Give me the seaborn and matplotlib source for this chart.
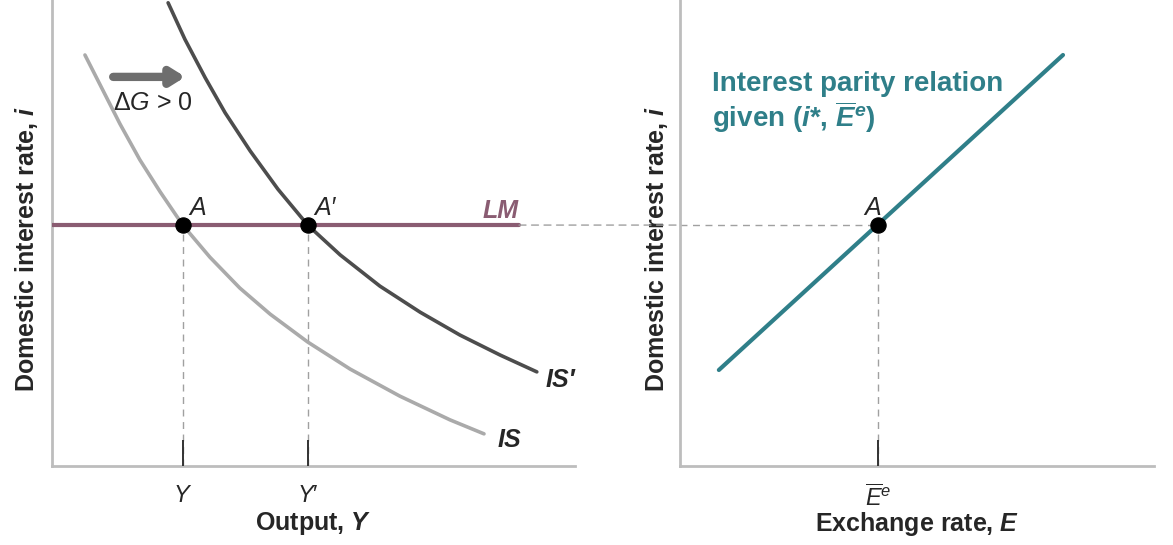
import matplotlib
matplotlib.use("Agg")
import matplotlib.pyplot as plt
from matplotlib.patches import ConnectionPatch
import seaborn as sns

# ------------------------------------------------------------------
# Data (schematic units 0-10 on both axes)
# ------------------------------------------------------------------
is_x = [0.63, 0.92, 1.30, 1.68, 2.07, 2.50, 3.02, 3.59, 4.17, 4.89, 5.70, 6.65, 7.61, 8.26]
is_y = [8.82, 8.18, 7.34, 6.57, 5.88, 5.17, 4.48, 3.82, 3.26, 2.66, 2.08, 1.50, 0.99, 0.69]

is2_x = [2.22, 2.54, 2.93, 3.31, 3.79, 4.32, 4.89, 5.51, 6.27, 7.04, 7.80, 8.57, 9.27]
is2_y = [9.94, 9.16, 8.33, 7.58, 6.76, 5.94, 5.17, 4.53, 3.86, 3.30, 2.81, 2.38, 2.02]

lm_x = [0.0, 8.93]
lm_y = [5.17, 5.17]

eq_x = [2.50, 4.89]          # A, A'
eq_y = [5.17, 5.17]
eq_names = ["A", "A\u2032"]
out_ticks = ["$Y$", "$Y\u2032$"]

ip_x = [0.82, 8.08]          # interest parity line
ip_y = [2.06, 8.82]
ip_a = (4.18, 5.17)

# ------------------------------------------------------------------
# Style
# ------------------------------------------------------------------
sns.set_style("white")
plt.rcParams["font.family"] = ["Liberation Sans", "DejaVu Sans"]
plt.rcParams["mathtext.fontset"] = "custom"
plt.rcParams["mathtext.rm"] = "Liberation Sans"
plt.rcParams["mathtext.it"] = "Liberation Sans:italic"
plt.rcParams["mathtext.bf"] = "Liberation Sans:bold"
plt.rcParams["mathtext.bfit"] = "Liberation Sans:bold:italic"

SPINE = "#bdbdbd"
LM_C = "#8a5c72"
IS_C = "#aaaaaa"
IS2_C = "#4d4d4d"
TEAL = "#2f7f89"
DASH = "#a0a0a0"
DASHES = (0, (5, 4))

fig = plt.figure(figsize=(11.73, 5.45), dpi=100)
ax1 = fig.add_axes([52 / 1173, 79 / 545, 523 / 1173, 466 / 545])
ax2 = fig.add_axes([680 / 1173, 79 / 545, 474 / 1173, 466 / 545])

for ax in (ax1, ax2):
    ax.set_xlim(0, 10)
    ax.set_ylim(0, 10)
    ax.set_axisbelow(False)
    for s in ("top", "right"):
        ax.spines[s].set_visible(False)
    for s in ("left", "bottom"):
        ax.spines[s].set_color(SPINE)
        ax.spines[s].set_linewidth(2)
    ax.set_yticks([])
    ax.tick_params(axis="x", bottom=True, direction="in", length=19, width=1.4,
                   color="#333333", pad=14, labelsize=17)
    ax.set_ylabel("Domestic interest rate, $\\mathbfit{i}$", fontsize=18,
                  fontweight="bold")

ax1.yaxis.set_label_coords(-0.022, 0.465)
ax2.yaxis.set_label_coords(-0.021, 0.465)

# ------------------------------------------------------------------
# Left panel: IS-LM
# ------------------------------------------------------------------
for x0 in eq_x:
    ax1.plot([x0, x0], [0, 5.17], ls=DASHES, lw=1, color=DASH, zorder=1)

sns.lineplot(x=is_x, y=is_y, ax=ax1, color=IS_C, lw=2.6, sort=False, zorder=2)
sns.lineplot(x=is2_x, y=is2_y, ax=ax1, color=IS2_C, lw=2.6, sort=False, zorder=2)
sns.lineplot(x=lm_x, y=lm_y, ax=ax1, color=LM_C, lw=3, zorder=3)
sns.scatterplot(x=eq_x, y=eq_y, ax=ax1, color="black", s=120, zorder=4,
                edgecolor="black")

ax1.set_xticks(eq_x)
ax1.set_xticklabels(out_ticks)
ax1.set_xlabel("Output, $\\mathbfit{Y}$", fontsize=18, fontweight="bold")
ax1.xaxis.set_label_coords(0.5, -0.095)

for x0, nm in zip(eq_x, eq_names):
    ax1.text(x0 + 0.12, 5.27, nm, fontsize=18, style="italic", va="bottom")
ax1.text(8.93, 5.22, "LM", fontsize=18, style="italic", fontweight="bold",
         color=LM_C, ha="right", va="bottom")
ax1.text(9.43, 1.85, "IS\u2032", fontsize=18, style="italic", fontweight="bold",
         va="center")
ax1.text(8.51, 0.56, "IS", fontsize=18, style="italic", fontweight="bold",
         va="center")

ax1.annotate("", xy=(2.55, 8.35), xytext=(1.17, 8.35),
             arrowprops=dict(arrowstyle="-|>,head_length=0.8,head_width=0.5",
                             lw=6, color="#6e6e6e", shrinkA=0, shrinkB=0))
ax1.text(1.17, 7.79, "$\\Delta G$ > 0", fontsize=18, va="center")

# ------------------------------------------------------------------
# Right panel: interest parity
# ------------------------------------------------------------------
ax2.plot([ip_a[0], ip_a[0]], [0, ip_a[1]], ls=DASHES, lw=1, color=DASH, zorder=1)
ax2.plot([0, ip_a[0]], [ip_a[1], ip_a[1]], ls=DASHES, lw=1, color=DASH, zorder=1)
sns.lineplot(x=ip_x, y=ip_y, ax=ax2, color=TEAL, lw=3, zorder=3)
sns.scatterplot(x=[ip_a[0]], y=[ip_a[1]], ax=ax2, color="black", s=120, zorder=4,
                edgecolor="black")
ax2.text(ip_a[0] - 0.3, 5.27, "A", fontsize=18, style="italic", va="bottom")

ax2.set_xticks([ip_a[0]])
ax2.set_xticklabels(["$\\overline{E}^{e}$"])
ax2.set_xlabel("Exchange rate, $\\mathbfit{E}$", fontsize=18, fontweight="bold")
ax2.xaxis.set_label_coords(0.5, -0.095)

ax2.text(0.68, 8.47,
         "Interest parity relation\ngiven ($\\mathbfit{i}$*, $\\overline{\\mathbfit{E}}^{\\mathbfit{e}}$)",
         fontsize=20, fontweight="bold", color=TEAL, va="top", linespacing=1.05)

# dashed link across the gap between panels
con = ConnectionPatch(xyA=(lm_x[1], lm_y[1]), coordsA=ax1.transData,
                      xyB=(0, ip_a[1]), coordsB=ax2.transData,
                      ls=DASHES, lw=1, color=DASH, zorder=1)
fig.add_artist(con)

fig.savefig("out.png", dpi=100)
